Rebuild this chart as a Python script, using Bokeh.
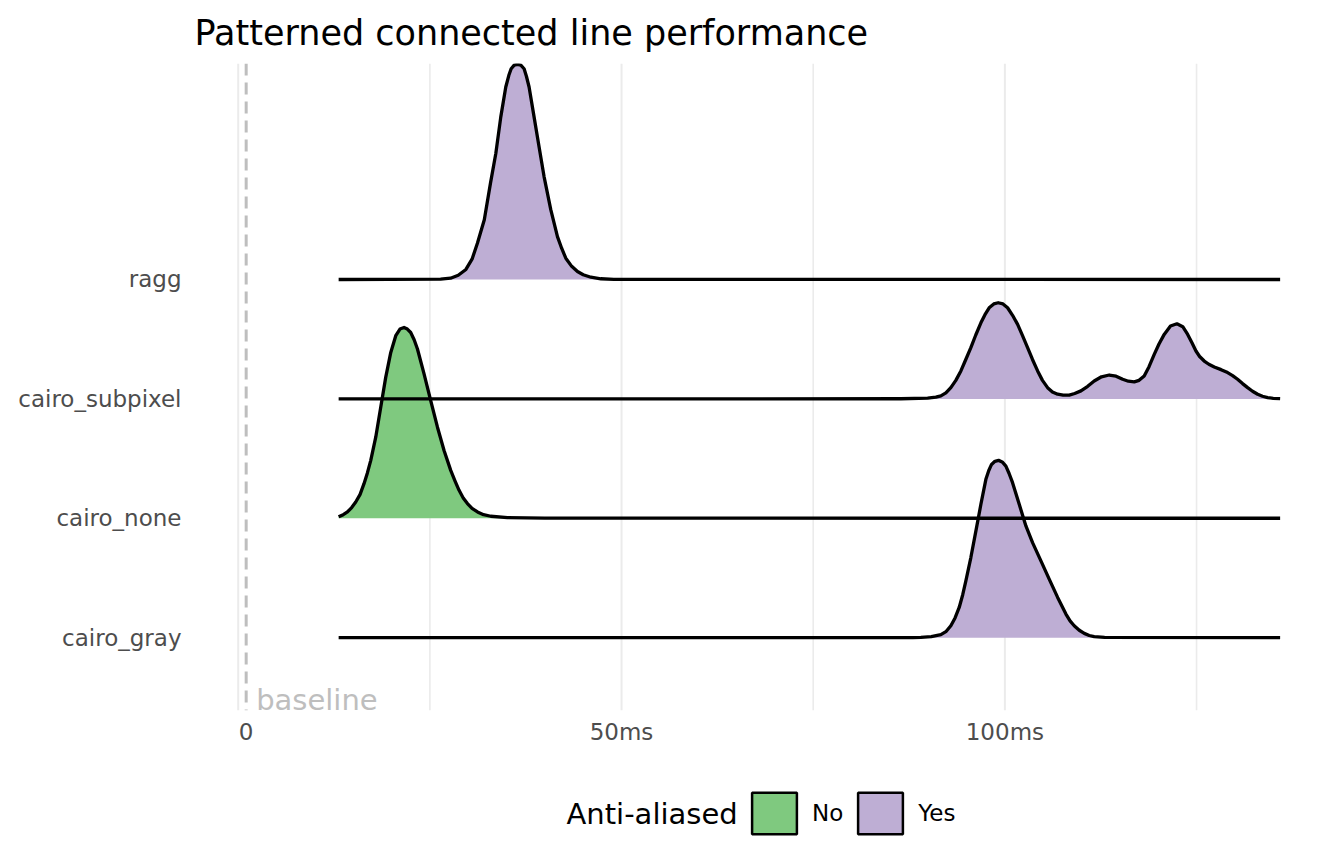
import numpy as np
from bokeh.plotting import figure
from bokeh.layouts import column
from bokeh.models import (Range1d, FixedTicker, Span, Legend, LegendItem,
                          ColumnDataSource, Label)
from bokeh.core.properties import value
from bokeh.embed import file_html
from bokeh.resources import INLINE

# ---------------- data ----------------
categories = ["cairo_gray", "cairo_none", "cairo_subpixel", "ragg"]
anti_aliased = ["Yes", "No", "Yes", "Yes"]
legend_labels = ["No", "Yes"]
fill_colors = {"No": "#7FC97F", "Yes": "#BEAED4"}
legend_title = "Anti-aliased"

x_ticks = [1.04, 50, 100]
x_tick_labels = ["0", "50ms", "100ms"]
major_grid = [0, 50, 100]
minor_grid = [25, 75, 125]
baseline_x = 1.04
baseline_label = "baseline"

gray_x = [13.1, 88.0, 89.04, 90.4, 91.65, 92.3, 92.95, 93.5, 94.04, 94.5,
          94.91, 95.56, 96.22, 96.87, 97.52, 97.9, 98.26, 98.7, 99.18, 99.65,
          100.13, 100.55, 101.0, 101.87, 102.74, 103.61, 104.70, 105.78,
          106.88, 107.96, 108.5, 109.04, 109.7, 110.35, 111.0, 111.65, 113.0,
          135.9]
gray_h = [0, 0, 0.002, 0.008, 0.025, 0.05, 0.1, 0.165, 0.253, 0.36,
          0.476, 0.671, 0.894, 1.117, 1.326, 1.40, 1.451, 1.477, 1.485, 1.472,
          1.437, 1.375, 1.298, 1.117, 0.936, 0.796, 0.643, 0.49,
          0.337, 0.198, 0.14, 0.1, 0.062, 0.036, 0.018, 0.008, 0.002,
          0]

none_x = [13.1, 13.7, 14.25, 14.8, 15.33, 15.9, 16.41, 16.85, 17.29, 17.94,
          18.59, 19.24, 19.9, 20.55, 21.1, 21.63, 22.06, 22.5, 22.95, 23.38,
          24.24, 25.11, 25.99, 26.85, 27.72, 28.3, 28.81, 29.35, 29.9, 30.5,
          31.21, 32.0, 32.94, 35.12, 40.0, 135.9]
none_h = [0.012, 0.03, 0.053, 0.09, 0.136, 0.2, 0.29, 0.38, 0.485, 0.679,
          0.93, 1.18, 1.389, 1.529, 1.585, 1.598, 1.585, 1.556, 1.495, 1.418,
          1.209, 0.986, 0.763, 0.568, 0.401, 0.31, 0.234, 0.17, 0.123, 0.083,
          0.053, 0.03, 0.017, 0.006, 0.001, 0]

subpixel_x = [13.1, 86.43, 89.92, 91.0, 91.65, 92.3, 92.95, 93.6, 94.26, 94.9,
              95.56, 96.2, 96.87, 97.4, 97.95, 98.55, 99.13, 99.75, 100.35,
              101.0, 101.66, 102.3, 102.96, 103.6, 104.27, 104.9, 105.57,
              106.2, 106.88, 107.6, 108.39, 109.1, 109.92, 110.8, 111.65,
              112.6, 113.61, 114.5, 115.36, 116.1, 116.87, 117.5, 118.17,
              118.8, 119.48, 120.1, 120.78, 121.6, 122.44, 123.2, 123.84,
              124.4, 124.92, 125.4, 126.0, 126.6, 127.31, 128.2, 129.05,
              129.7, 130.35, 131.0, 131.66, 132.3, 132.97, 133.6, 134.27,
              135.0, 135.9]
subpixel_h = [0, 0.001, 0.006, 0.014, 0.025, 0.05, 0.094, 0.155, 0.234, 0.33,
              0.429, 0.535, 0.637, 0.705, 0.763, 0.795, 0.805, 0.795, 0.763,
              0.70, 0.624, 0.53, 0.429, 0.33, 0.234, 0.155, 0.094,
              0.058, 0.039, 0.031, 0.031, 0.045, 0.067, 0.105, 0.150,
              0.185, 0.2, 0.19, 0.164, 0.148, 0.142, 0.155, 0.192,
              0.27, 0.373, 0.46, 0.54, 0.61, 0.629, 0.605, 0.54,
              0.47, 0.401, 0.355, 0.317, 0.29, 0.267, 0.245, 0.22,
              0.195, 0.164, 0.128, 0.094, 0.064, 0.039, 0.022, 0.011,
              0.005, 0.002]

ragg_x = [13.1, 26.4, 27.7, 28.7, 29.7, 30.5, 31.2, 32.1, 32.9, 33.6, 34.25,
          34.9, 35.3, 35.6, 36.0, 36.43, 36.86, 37.29, 37.6, 37.94, 38.59,
          39.24, 39.9, 40.77, 41.64, 42.2, 42.73, 43.5, 44.25, 45.0, 46.0,
          47.3, 49.0, 135.9]
ragg_h = [0, 0.003, 0.011, 0.035, 0.084, 0.17, 0.303, 0.501, 0.805, 1.055,
          1.362, 1.612, 1.71, 1.765, 1.795, 1.802, 1.795, 1.765, 1.70, 1.612,
          1.362, 1.111, 0.860, 0.585, 0.359, 0.26, 0.178, 0.11, 0.067, 0.04,
          0.019, 0.006, 0.001, 0]

series_x = [gray_x, none_x, subpixel_x, ragg_x]
series_h = [gray_h, none_h, subpixel_h, ragg_h]

FONT = "DejaVu Sans"

x_start, x_end = -5.7, 142.6
y_start, y_end = 0.39, 5.809

p = figure(width=1344, height=760,
           x_range=Range1d(x_start, x_end), y_range=Range1d(y_start, y_end),
           output_backend="svg", toolbar_location=None,
           min_border_left=194, min_border_right=13,
           min_border_top=62, min_border_bottom=50,
           title="Patterned connected line performance")
p.outline_line_color = None
p.background_fill_color = "white"
p.border_fill_color = "white"

p.title.text_font = FONT
p.title.text_font_size = "35px"
p.title.text_font_style = "normal"
p.title.text_color = "black"
p.title.align = "left"
p.title.text_line_height = 0.8
p.title.standoff = 21

p.xgrid.visible = False
p.ygrid.visible = False

for g in major_grid:
    p.add_layout(Span(location=g, dimension="height", line_color="#EBEBEB",
                      line_width=2, level="underlay"))
for g in minor_grid:
    p.add_layout(Span(location=g, dimension="height", line_color="#EBEBEB",
                      line_width=1.6, level="underlay"))
p.add_layout(Span(location=baseline_x, dimension="height", line_color="#BEBEBE",
                  line_width=3, line_dash="12 7", level="underlay"))

p.text(x=[baseline_x], y=[y_start], text=[baseline_label], x_offset=10,
       y_offset=6, text_baseline="bottom", text_align="left",
       text_font=value(FONT), text_font_size="29px", text_color="#BEBEBE")

for i, (xs, hs) in enumerate(zip(series_x, series_h)):
    base = i + 1
    top = [base + h for h in hs]
    col = fill_colors[anti_aliased[i]]
    p.varea(x=xs, y1=[base] * len(xs), y2=top, fill_color=col)
    p.line(x=xs, y=top, line_color="black", line_width=3.3,
           line_join="round")

# axes
p.yaxis.ticker = FixedTicker(ticks=[1, 2, 3, 4])
p.yaxis.major_label_overrides = {i + 1: c for i, c in enumerate(categories)}
p.xaxis.ticker = FixedTicker(ticks=x_ticks)
p.xaxis.major_label_overrides = {t: l for t, l in zip(x_ticks, x_tick_labels)}
for ax in (p.xaxis[0], p.yaxis[0]):
    ax.axis_line_color = None
    ax.major_tick_line_color = None
    ax.minor_tick_line_color = None
    ax.major_label_text_font = FONT
    ax.major_label_text_font_size = "23px"
    ax.major_label_text_color = "#4D4D4D"
p.yaxis.major_label_standoff = 7
p.xaxis.major_label_standoff = 2

# ---------------- legend (separate strip below) ----------------
lf = figure(width=1344, height=105, x_range=Range1d(0, 1), y_range=Range1d(0, 1),
            output_backend="svg", toolbar_location=None,
            x_axis_type=None, y_axis_type=None,
            min_border_left=0, min_border_right=0, min_border_top=0,
            min_border_bottom=0)
lf.outline_line_color = None
lf.xgrid.visible = False
lf.ygrid.visible = False

items = []
for lab in legend_labels:
    src = ColumnDataSource(dict(x=np.array([np.nan]), y=np.array([np.nan])))
    r = lf.rect(x="x", y="y", width=1, height=1, source=src,
                fill_color=fill_colors[lab], line_color="black", line_width=2.5)
    items.append(LegendItem(label=lab, renderers=[r]))

legend = Legend(items=items, orientation="horizontal", location=(552, 26),
                glyph_width=56, glyph_height=52, label_standoff=10, spacing=9,
                label_text_font=FONT, label_text_font_size="23px",
                label_text_color="black", border_line_color=None,
                background_fill_alpha=0, padding=0, margin=0)
lf.add_layout(legend, "center")
lf.add_layout(Label(x=372, y=52, x_units="screen", y_units="screen",
                    text=legend_title, text_font=FONT, text_font_size="29px",
                    text_color="black", text_baseline="middle"))

open("out.html", "w").write(file_html(column(p, lf), INLINE))
